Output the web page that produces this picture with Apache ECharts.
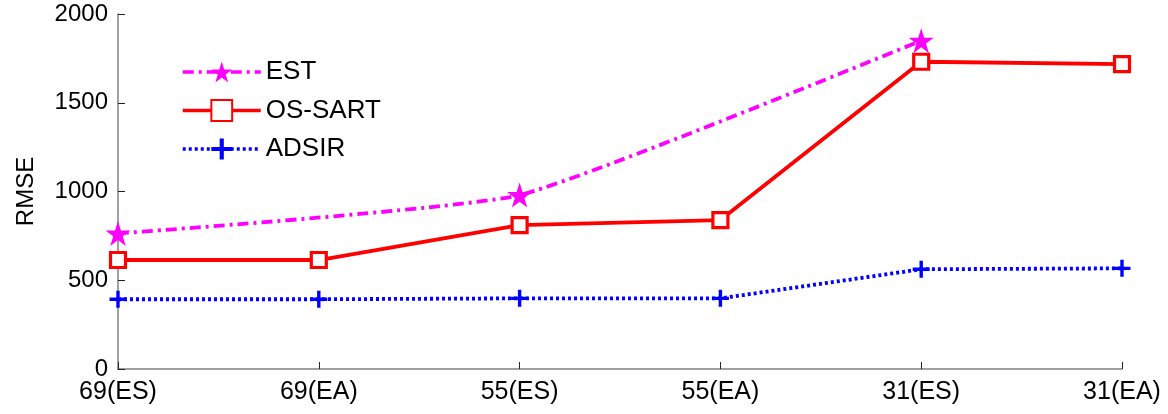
<!DOCTYPE html>
<html>
<head>
<meta charset="utf-8">
<script src="https://cdn.jsdelivr.net/npm/echarts@6/dist/echarts.min.js"></script>
<style>html,body{margin:0;padding:0;background:#fff;}#c{width:1168px;height:414px;}</style>
</head>
<body>
<div id="c"></div>
<script>
const categories = ['69(ES)', '69(EA)', '55(ES)', '55(EA)', '31(ES)', '31(EA)'];
const estValues = [764, null, 980, null, 1850, null];
const ossartValues = [614, 614, 811, 839, 1731, 1718];
const adsirValues = [393, 393, 398, 398, 562, 567];
const yTicks = { min: 0, max: 2000, interval: 500 };

const STAR = 'path://M50,0 L61.2,34.5 L97.6,34.5 L68.2,55.9 L79.4,90.5 L50,69.1 L20.6,90.5 L31.8,55.9 L2.4,34.5 L38.8,34.5 Z';
const PLUS = 'path://M0,40 L100,40 L100,60 L0,60 Z M40,0 L60,0 L60,100 L40,100 Z';
const FONT = 'Liberation Sans';

const chart = echarts.init(document.getElementById('c'), null, { renderer: 'canvas' });
chart.setOption({
  animation: false,
  backgroundColor: '#ffffff',
  textStyle: { fontFamily: FONT, color: '#000' },
  grid: { left: 118, right: 46, top: 14, bottom: 45, containLabel: false },
  legend: {
    orient: 'vertical',
    left: 176, top: 54,
    itemWidth: 78, itemHeight: 26, itemGap: 12.5,
    lineStyle: { width: 3.5 },
    textStyle: { fontFamily: FONT, fontSize: 26, color: '#000' },
    data: ['EST', 'OS-SART', 'ADSIR']
  },
  xAxis: {
    type: 'category',
    data: categories,
    boundaryGap: false,
    axisLine: { lineStyle: { color: '#808080', width: 1.5 } },
    axisTick: { inside: true, length: 7, alignWithLabel: true, lineStyle: { color: '#222', width: 1 } },
    axisLabel: { fontFamily: FONT, fontSize: 25, color: '#000', margin: 11 },
    splitLine: { show: false }
  },
  yAxis: {
    type: 'value',
    min: yTicks.min, max: yTicks.max, interval: yTicks.interval,
    name: 'RMSE',
    nameLocation: 'middle',
    nameGap: 80,
    nameTextStyle: { fontFamily: FONT, fontSize: 24, color: '#000' },
    axisLine: { show: true, lineStyle: { color: '#808080', width: 1.5 } },
    axisTick: { show: true, inside: true, length: 7, lineStyle: { color: '#222', width: 1 } },
    axisLabel: { fontFamily: FONT, fontSize: 24, color: '#000', margin: 10, formatter: function (v) { return String(v); } },
    splitLine: { show: false }
  },
  series: [
    {
      name: 'EST', type: 'line', data: estValues, connectNulls: true, smooth: 0.15,
      symbol: STAR, symbolSize: 25,
      itemStyle: { color: '#ff00ff' },
      lineStyle: { color: '#ff00ff', width: 3.8, type: [11, 5, 3, 5] },
      z: 3
    },
    {
      name: 'OS-SART', type: 'line', data: ossartValues,
      symbol: 'rect', symbolSize: 15,
      itemStyle: { color: '#ffffff', borderColor: '#ff0000', borderWidth: 3.2 },
      lineStyle: { color: '#ff0000', width: 3.8 },
      z: 2
    },
    {
      name: 'ADSIR', type: 'line', data: adsirValues,
      symbol: PLUS, symbolSize: 17,
      itemStyle: { color: '#0000ff' },
      lineStyle: { color: '#0000ff', width: 3.8, type: [3, 3] },
      z: 1
    }
  ]
});
</script>
</body>
</html>
